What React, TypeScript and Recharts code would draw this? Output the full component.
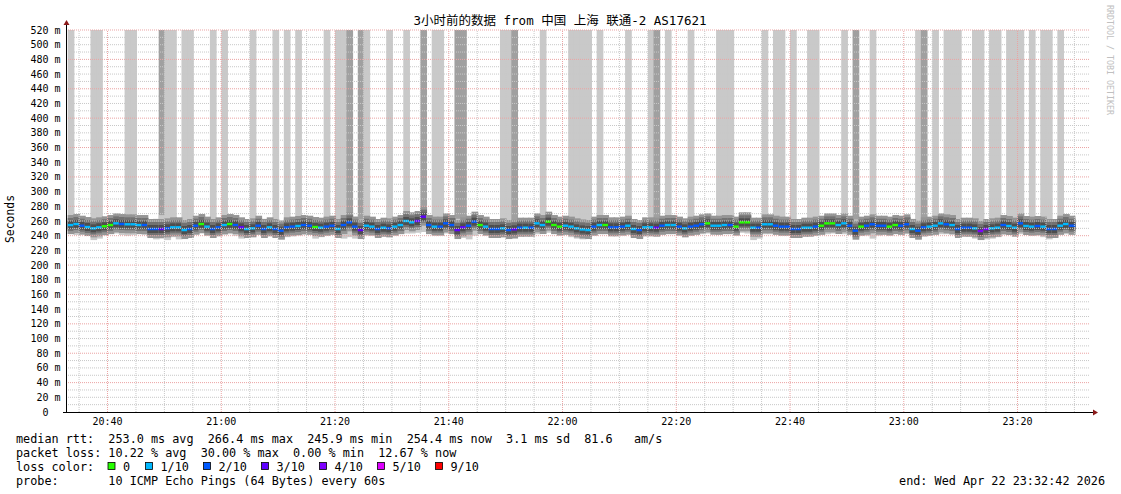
import React from 'react';
import { ComposedChart, Bar, XAxis, YAxis, ReferenceLine, Cell } from 'recharts';

// one slot per minute, first slot = 20:33
const firstMinute = 33;
const slotCount = 179;

const medianRtt = [
  254.5, 255.9, 253.6, 251.8, 250.0, 251.4, 252.8, 254.5, 256.8, 255.9,
  255.5, 255.5, 254.5, 254.5, 249.1, 249.1, 249.1, 250.0, 251.4, 251.4,
  247.7, 249.1, 253.6, 255.9, 252.3, 249.1, 251.4, 254.5, 255.9, 254.5,
  251.4, 249.1, 250.0, 253.6, 249.1, 251.4, 249.1, 246.8, 251.4, 252.3,
  253.2, 254.5, 253.6, 251.8, 250.9, 252.3, 253.6, 249.1, 254.5, 258.2,
  252.3, 247.7, 253.6, 252.3, 249.1, 250.9, 250.0, 252.3, 254.5, 260.0,
  258.2, 260.0, 265.9, 254.5, 252.3, 252.3, 256.8, 254.5, 247.7, 251.4,
  253.6, 259.1, 254.5, 252.3, 249.1, 249.1, 250.0, 247.7, 248.7, 250.9,
  250.9, 250.9, 256.8, 254.5, 259.1, 254.5, 252.3, 253.6, 252.3, 250.0,
  248.5, 247.7, 252.3, 254.5, 254.5, 251.4, 251.4, 252.3, 253.6, 249.1,
  247.7, 251.4, 251.4, 250.9, 253.6, 254.5, 254.5, 252.3, 250.0, 252.3,
  253.6, 255.5, 256.8, 253.6, 253.6, 254.5, 254.5, 252.3, 258.2, 258.2,
  250.9, 250.9, 255.5, 255.5, 253.6, 252.3, 252.3, 249.1, 249.1, 250.9,
  250.9, 252.3, 253.6, 256.8, 256.8, 254.5, 256.8, 253.6, 246.8, 252.3,
  253.6, 255.5, 253.6, 253.6, 252.3, 254.5, 253.6, 255.5, 249.1, 246.8,
  251.4, 252.3, 253.6, 256.8, 255.5, 254.5, 249.1, 250.9, 250.9, 250.0,
  246.4, 249.1, 250.0, 250.9, 254.5, 253.2, 250.9, 256.8, 253.2, 252.3,
  253.2, 252.3, 249.1, 249.1, 253.6, 255.9, 253.6,
];

// lost pings out of 10
const lossTenths = [
  1, 1, 2, 1, 1, 1, 0, 0, 1, 2,
  1, 1, 1, 2, 2, 2, 3, 2, 1, 1,
  1, 2, 2, 0, 1, 2, 2, 1, 0, 2,
  3, 1, 1, 2, 2, 1, 2, 2, 2, 2,
  1, 2, 2, 0, 1, 2, 2, 1, 2, 2,
  2, 3, 1, 1, 2, 1, 2, 1, 1, 1,
  1, 3, 3, 2, 1, 2, 2, 2, 3, 3,
  2, 2, 0, 1, 2, 2, 1, 2, 3, 2,
  1, 2, 1, 1, 0, 0, 0, 1, 1, 1,
  1, 1, 2, 1, 0, 2, 2, 2, 1, 1,
  2, 1, 1, 3, 2, 1, 1, 2, 1, 2,
  2, 2, 0, 1, 1, 1, 2, 0, 0, 0,
  1, 2, 1, 1, 2, 2, 2, 2, 2, 1,
  1, 2, 0, 0, 0, 1, 1, 2, 2, 0,
  2, 2, 2, 2, 0, 0, 2, 2, 1, 2,
  2, 1, 1, 1, 2, 1, 2, 2, 2, 1,
  4, 4, 1, 1, 2, 1, 1, 2, 1, 1,
  2, 1, 2, 2, 1, 1, 2,
];

const smokeLow = [
  242, 241, 243, 240, 234, 236, 241, 242, 243, 241,
  240, 241, 242, 241, 239, 235, 236, 234, 238, 235,
  236, 238, 242, 243, 241, 240, 240, 241, 242, 240,
  236, 238, 239, 241, 240, 241, 238, 236, 238, 239,
  240, 241, 241, 236, 238, 240, 241, 238, 236, 238,
  236, 237, 240, 241, 239, 239, 240, 241, 242, 243,
  243, 244, 245, 242, 241, 241, 243, 242, 238, 237,
  235, 240, 242, 241, 239, 238, 238, 237, 236, 239,
  240, 240, 242, 243, 244, 242, 241, 241, 238, 236,
  235, 236, 240, 242, 242, 241, 241, 241, 242, 239,
  237, 240, 240, 240, 241, 242, 242, 241, 239, 240,
  241, 242, 243, 242, 241, 242, 242, 241, 244, 243,
  234, 236, 242, 242, 241, 240, 240, 238, 237, 239,
  240, 240, 241, 242, 243, 243, 242, 241, 237, 240,
  240, 236, 240, 241, 241, 242, 241, 242, 239, 236,
  239, 240, 241, 242, 242, 241, 239, 240, 239, 236,
  234, 235, 236, 238, 241, 241, 240, 242, 241, 240,
  240, 238, 235, 237, 241, 242, 241,
];

const smokeHigh = [
  264, 265, 263, 262, 261, 262, 264, 265, 266, 265,
  266, 265, 265, 265, 262, 263, 268, 264, 264, 263,
  262, 263, 265, 266, 264, 262, 264, 265, 266, 265,
  263, 262, 262, 265, 263, 263, 262, 261, 263, 264,
  264, 265, 265, 264, 263, 264, 265, 262, 266, 268,
  266, 262, 265, 264, 262, 263, 263, 265, 266, 268,
  268, 268, 273, 266, 264, 264, 267, 266, 263, 264,
  265, 268, 266, 264, 262, 262, 263, 262, 262, 263,
  263, 264, 266, 266, 268, 266, 265, 265, 264, 262,
  261, 261, 264, 266, 266, 264, 264, 264, 265, 262,
  261, 263, 264, 263, 265, 266, 266, 264, 263, 264,
  265, 266, 267, 265, 265, 266, 266, 265, 268, 268,
  264, 263, 266, 266, 265, 264, 264, 262, 262, 263,
  263, 264, 265, 267, 267, 266, 267, 265, 262, 264,
  265, 266, 265, 265, 265, 266, 265, 266, 263, 261,
  263, 264, 265, 267, 266, 265, 263, 263, 263, 263,
  261, 262, 263, 263, 265, 265, 264, 267, 265, 264,
  265, 264, 262, 262, 265, 266, 265,
];

// slots whose smoke runs off the top of the graph
const lightSpikeSlots = [
  0, 4, 5, 10, 11, 17, 18, 20, 21, 25, 27, 32, 36, 38, 40, 45, 47, 48, 52, 56,
  59, 64, 65, 76, 77, 83, 88, 89, 90, 91, 93, 98, 102, 105, 109, 114, 115, 116,
  122, 124, 125, 127, 130, 131, 136, 141, 149, 152, 154, 155, 156, 159, 160, 162,
  163, 165, 166, 167, 169, 171, 172, 174,
];
const darkSpikeSlots = [16, 49, 51, 62, 68, 69, 78, 103, 138, 150];

const yTicks = [0, 20, 40, 60, 80, 100, 120, 140, 160, 180, 200, 220, 240, 260, 280, 300, 320, 340, 360, 380, 400, 420, 440, 460, 480, 500, 520];
const timeTicks = [40, 60, 80, 100, 120, 140, 160, 180, 200];
const timeLabels = ['20:40', '21:00', '21:20', '21:40', '22:00', '22:20', '22:40', '23:00', '23:20'];

const lossLegend = [
  { label: '0', color: '#26ff00', x: 108 },
  { label: '1/10', color: '#00b8ff', x: 145.5 },
  { label: '2/10', color: '#0059ff', x: 203.5 },
  { label: '3/10', color: '#5e00ff', x: 261.5 },
  { label: '4/10', color: '#7e00ff', x: 319.5 },
  { label: '5/10', color: '#dd00ff', x: 377.5 },
  { label: '9/10', color: '#ff0000', x: 435.5 },
];
const lossColors = ['#26ff00', '#00b8ff', '#0059ff', '#5e00ff', '#7e00ff', '#dd00ff', '#dd00ff', '#dd00ff', '#dd00ff', '#ff0000', '#ff0000'];

const Y_MAX = 520;
const SPIKE_FLOOR = 250;
const W = 1121;
const H = 494;
const MONO = '"DejaVu Sans Mono", monospace';
const MINOR = '#c8c8c8';
const MAJOR = '#eba3a3';

const rows = Array.from({ length: slotCount }, (_, i) => {
  const has = i < medianRtt.length;
  const light = lightSpikeSlots.includes(i);
  const dark = darkSpikeSlots.includes(i);
  return {
    slot: i,
    t: firstMinute + i + 0.5,
    spike: light || dark ? [SPIKE_FLOOR, Y_MAX] : null,
    spikeFill: dark ? '#a0a0a0' : '#c9c9c9',
    smoke: has ? [smokeLow[i], smokeHigh[i]] : null,
    median: has ? medianRtt[i] : null,
    loss: has ? lossTenths[i] : 0,
  };
});

const slotPad = { left: 1.71, right: 3.98 };

const slotShape = (props: any) => {
  const { x, y, width, height, fill } = props;
  if (!Number.isFinite(y) || !(height > 0)) return <g />;
  return <rect x={x} y={y} width={width + 0.7} height={height} fill={fill} />;
};

const medianShape = (props: any) => {
  const { x, y, width, fill, payload } = props;
  if (!payload || payload.median == null || !Number.isFinite(y)) return <g />;
  const w = width + 0.7;
  return (
    <g>
      <rect x={x} y={y - 10} width={w} height={19} fill="#959595" />
      <rect x={x} y={y - 7} width={w} height={13} fill="#727272" />
      <rect x={x} y={y - 4} width={w} height={8} fill="#4e4e4e" />
      <rect x={x} y={y - 1.2} width={w} height={2.4} fill={fill} />
    </g>
  );
};

const TimeTick = (props: any) => {
  const { x, y, payload } = props;
  const idx = timeTicks.indexOf(payload.value);
  return (
    <text x={x} y={y} dy={13} textAnchor="middle" fontFamily={MONO} fontSize={10} fill="#000">
      {timeLabels[idx] ?? ''}
    </text>
  );
};

const ValueTick = (props: any) => {
  const { x, y, payload } = props;
  const v = payload.value;
  return (
    <text x={x - 5.5} y={y} dy="0.35em" textAnchor="end" fontFamily={MONO} fontSize={10} fill="#000" style={{ whiteSpace: 'pre' }}>
      {v === 0 ? '0  ' : `${v} m`}
    </text>
  );
};

const hGrid = Array.from({ length: 52 }, (_, k) => (k + 1) * 10);
const vGrid = Array.from({ length: 36 }, (_, k) => 35 + k * 5);

export default function App() {
  const lines = [
    'median rtt:  253.0 ms avg  266.4 ms max  245.9 ms min  254.4 ms now  3.1 ms sd  81.6   am/s',
    'packet loss: 10.22 % avg  30.00 % max  0.00 % min  12.67 % now',
  ];
  return (
    <div style={{ position: 'absolute', left: 0, top: 0, width: W, height: H, background: '#fff' }}>
      <ComposedChart
        width={W}
        height={H}
        data={rows}
        margin={{ top: 30, right: 31.25, bottom: 62, left: 6 }}
        barCategoryGap={0}
        barGap={0}
      >
        <XAxis xAxisId="spike" dataKey="slot" type="category" hide height={0} padding={slotPad} />
        <XAxis xAxisId="smoke" dataKey="slot" type="category" hide height={0} padding={slotPad} />
        <XAxis xAxisId="median" dataKey="slot" type="category" hide height={0} padding={slotPad} />
        <XAxis
          xAxisId="time"
          dataKey="t"
          type="number"
          domain={[32.7, 212.7]}
          allowDataOverflow
          ticks={timeTicks}
          interval={0}
          tick={<TimeTick />}
          tickLine={false}
          axisLine={false}
          tickSize={0}
          tickMargin={0}
          height={20}
        />
        <YAxis
          domain={[0, Y_MAX]}
          allowDataOverflow
          ticks={yTicks}
          interval={0}
          width={60}
          axisLine={false}
          tickLine={false}
          tickSize={0}
          tickMargin={0}
          tick={<ValueTick />}
        />
        <Bar xAxisId="spike" dataKey="spike" isAnimationActive={false} shape={slotShape}>
          {rows.map((r) => (
            <Cell key={r.slot} fill={r.spikeFill} />
          ))}
        </Bar>
        <Bar xAxisId="smoke" dataKey="smoke" fill="#c9c9c9" isAnimationActive={false} shape={slotShape} />
        <Bar xAxisId="median" dataKey="median" isAnimationActive={false} shape={medianShape}>
          {rows.map((r) => (
            <Cell key={r.slot} fill={lossColors[r.loss]} />
          ))}
        </Bar>
        {hGrid.map((v) => (
          <ReferenceLine
            key={'h' + v}
            xAxisId="time"
            y={v}
            stroke={v % 40 === 0 ? MAJOR : MINOR}
            strokeDasharray="1 1"
            isFront
          />
        ))}
        {vGrid.map((m) => (
          <ReferenceLine
            key={'v' + m}
            xAxisId="time"
            x={m}
            stroke={m % 20 === 0 ? MAJOR : MINOR}
            strokeDasharray="1 1"
            isFront
          />
        ))}
      </ComposedChart>

      <svg width={W} height={H} style={{ position: 'absolute', left: 0, top: 0, pointerEvents: 'none' }}>
        <text x={560} y={25} textAnchor="middle" fontFamily={'"DejaVu Sans Mono", "Noto Sans CJK SC", monospace'} fontSize={12.5} fill="#000">
          3小时前的数据 from 中国 上海 联通-2 AS17621
        </text>
        <text transform="translate(14,219) rotate(-90)" textAnchor="middle" fontFamily={MONO} fontSize={11.4} fill="#000">
          Seconds
        </text>
        <text transform="translate(1107,5) rotate(90)" fontFamily={MONO} fontSize={8.3} fill="#c0c0c0">
          RRDTOOL / TOBI OETIKER
        </text>

        <line x1={66.5} y1={412.5} x2={66.5} y2={24} stroke="#000" strokeWidth={1} />
        <polygon points="63.5,25 69.5,25 66.5,20" fill="#8b1a1a" />
        <line x1={63} y1={412.5} x2={1094} y2={412.5} stroke="#000" strokeWidth={1} />
        <polygon points="1093,409.5 1093,415.5 1098,412.5" fill="#8b1a1a" />

        {lines.map((s, i) => (
          <text key={i} x={16} y={443 + i * 14} fontFamily={MONO} fontSize={11.8} fill="#000" style={{ whiteSpace: 'pre' }}>
            {s}
          </text>
        ))}
        <text x={16} y={471} fontFamily={MONO} fontSize={11.8} fill="#000">loss color:</text>
        {lossLegend.map((l) => (
          <g key={l.label}>
            <rect x={l.x} y={462.5} width={7} height={7} fill={l.color} stroke="#000" strokeWidth={0.8} />
            <text x={l.x + 15} y={471} fontFamily={MONO} fontSize={11.8} fill="#000">{l.label}</text>
          </g>
        ))}
        <text x={16} y={485} fontFamily={MONO} fontSize={11.8} fill="#000" style={{ whiteSpace: 'pre' }}>
          {'probe:       10 ICMP Echo Pings (64 Bytes) every 60s'}
        </text>
        <text x={1105} y={485} textAnchor="end" fontFamily={MONO} fontSize={11.8} fill="#000">
          end: Wed Apr 22 23:32:42 2026
        </text>
      </svg>
    </div>
  );
}
